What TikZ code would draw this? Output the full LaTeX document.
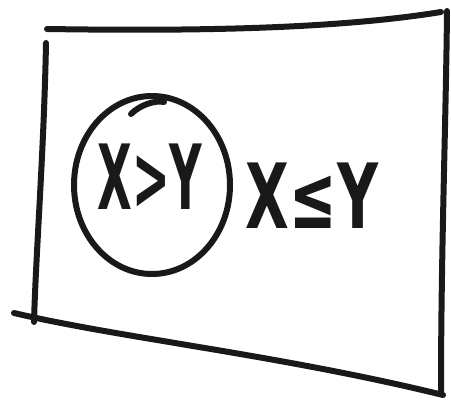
\documentclass[tikz,border=0pt]{standalone}
\usepackage{fontspec}
\setmainfont{DejaVu Sans}
\usetikzlibrary{shapes.geometric}
\begin{document}
\begin{tikzpicture}[x=1pt,y=-1pt,
  ink/.style={line width=6pt,line cap=round,line join=round,draw=black!90},
  hand/.style={font=\bfseries\fontsize{90}{90}\selectfont,inner sep=0pt,text=black!90}]
\useasboundingbox (0,0) rectangle (451,403);
% frame corners
\coordinate (tl) at (47,29);
\coordinate (tr) at (441,12);
\coordinate (rt) at (447,11);
\coordinate (rb) at (441,393);
\coordinate (lt) at (46,43);
\coordinate (lb) at (34,322);
\coordinate (bl) at (14,313);
\coordinate (br) at (443,395);
\draw[ink] (tl) .. controls (180,31) and (330,30) .. (tr);
\draw[ink] (rt) .. controls (446,120) and (441,250) .. (rb);
\draw[ink] (lt) .. controls (44,150) and (36,250) .. (lb);
\draw[ink] (bl) .. controls (120,338) and (280,355) .. (br);
% circle
\node[ink,ellipse,draw,minimum width=156pt,minimum height=178pt,inner sep=0pt] (c) at (152,185) {};
\coordinate (o1) at (131,114);
\coordinate (o2) at (164,102);
\draw[ink] (o1) .. controls (140,105) and (155,100) .. (o2);
% texts
\node[hand,xscale=0.5] (t1) at (150,177) {X>Y};
\node[hand,xscale=0.63] (t2) at (312,196) {X≤Y};
\end{tikzpicture}
\end{document}
